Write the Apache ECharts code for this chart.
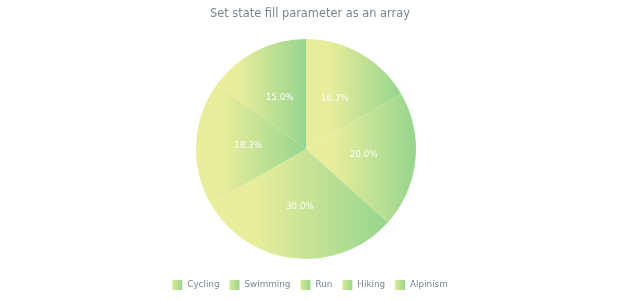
<!DOCTYPE html>
<html>
<head>
<meta charset="utf-8">
<script src="https://cdn.jsdelivr.net/npm/echarts@6/dist/echarts.min.js"></script>
<style>html,body{margin:0;padding:0;background:#fff;}#c{width:620px;height:300px;}</style>
</head>
<body>
<div id="c"></div>
<script>
const categories = ['Cycling', 'Swimming', 'Run', 'Hiking', 'Alpinism'];
const values = [10, 12, 18, 11, 9];
const titleText = 'Set state fill parameter as an array';

const grad = () => new echarts.graphic.LinearGradient(0, 0, 1, 0, [
  { offset: 0, color: '#eaee9c' },
  { offset: 0.25, color: '#e8ed9b' },
  { offset: 1, color: '#96d58e' }
]);
const legendGrad = () => new echarts.graphic.LinearGradient(0, 0, 1, 0, [
  { offset: 0, color: '#dbea96' },
  { offset: 1, color: '#98d58e' }
]);

const chart = echarts.init(document.getElementById('c'), null, { renderer: 'canvas' });
chart.setOption({
  animation: false,
  title: {
    text: titleText,
    left: 'center',
    top: 4,
    textStyle: { color: '#7c868e', fontSize: 11.4, fontWeight: 'normal', fontFamily: 'DejaVu Sans' }
  },
  legend: {
    bottom: 5,
    left: 'center',
    itemWidth: 10,
    itemHeight: 10,
    itemGap: 10,
    icon: 'rect',
    itemStyle: { borderWidth: 0, color: legendGrad() },
    textStyle: { color: '#7c868e', fontSize: 8.8, fontFamily: 'DejaVu Sans' },
    data: categories
  },
  series: [{
    type: 'pie',
    center: [306, 149],
    radius: [0, 110],
    startAngle: 90,
    clockwise: true,
    label: {
      show: true,
      position: 'inner',
      color: 'rgba(255,255,255,0.92)',
      fontSize: 8.8,
      fontFamily: 'DejaVu Sans',
      formatter: p => p.percent.toFixed(1) + '%'
    },
    labelLine: { show: false },
    itemStyle: { borderWidth: 0 },
    data: categories.map((n, i) => ({ name: n, value: values[i], itemStyle: { color: grad() } }))
  }]
});
</script>
</body>
</html>
